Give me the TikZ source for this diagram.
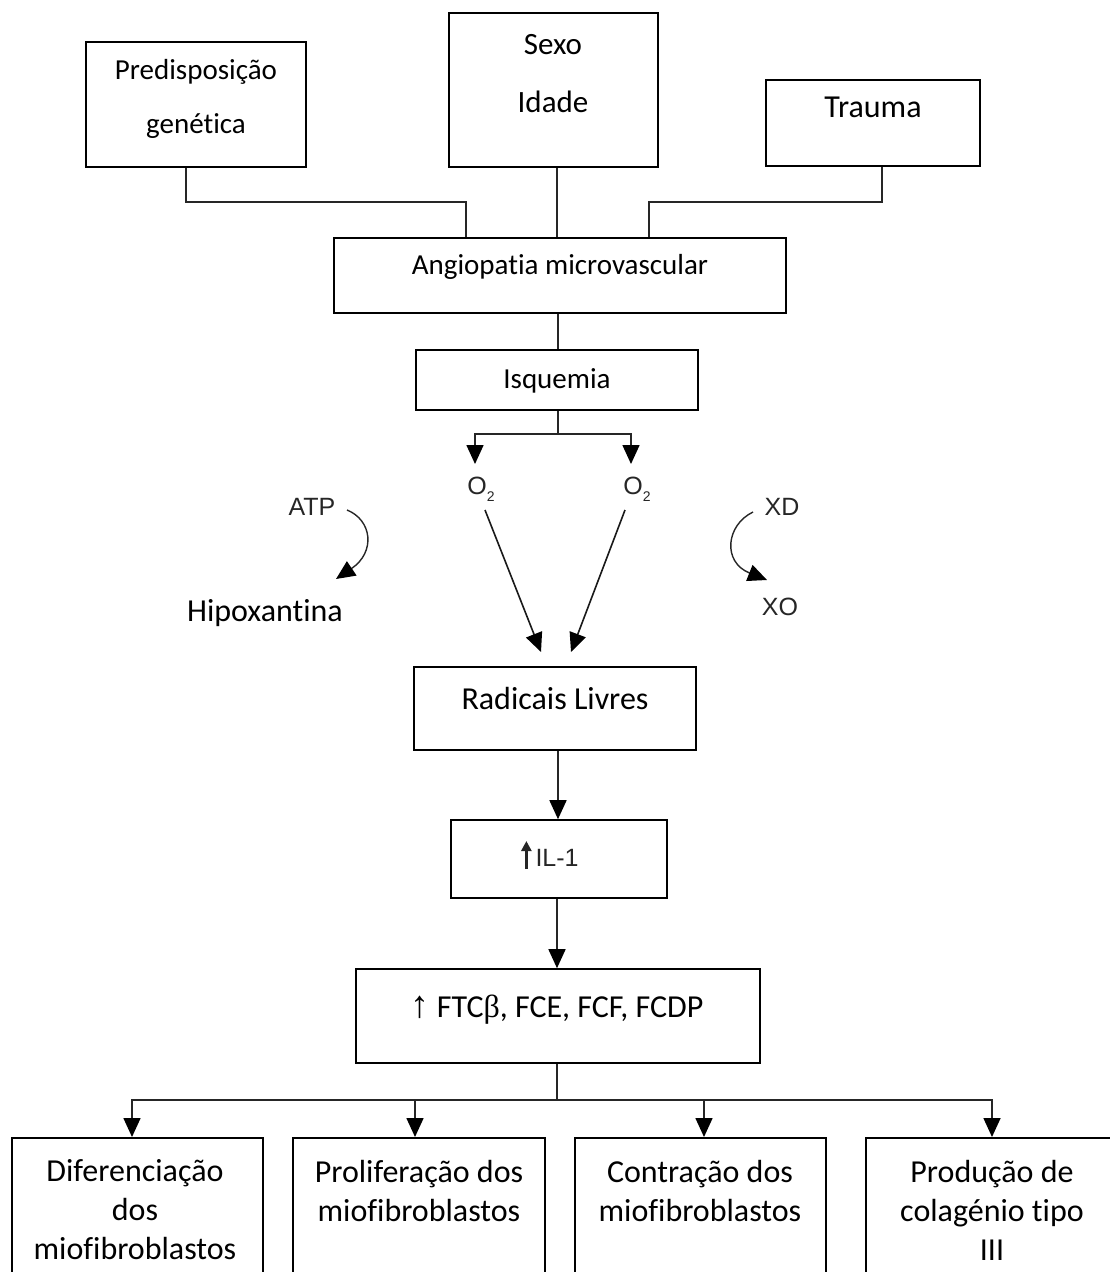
\documentclass[tikz,border=0pt]{standalone}
\usepackage{fontspec}
\setmainfont{Carlito}[Ligatures=NoCommon]
\newfontfamily\arialf{Liberation Sans}
\newfontfamily\serf{Liberation Serif}
\usetikzlibrary{arrows.meta}
\tikzset{
  box/.style={draw=black, line width=1.6pt, inner sep=0pt, fill=none},
  txt/.style={font=\fontsize{29}{38}\selectfont, align=center, inner sep=0pt},
  bigtxt/.style={font=\fontsize{32}{39}\selectfont, align=center, inner sep=0pt},
  conn/.style={line width=1.6pt, draw=black!85},
  arr/.style={conn, -{Triangle[length=19pt,width=17pt,color=black]}},
  gtxt/.style={font=\arialf\fontsize{25}{30}\selectfont, text=black!85, inner sep=0pt},
}
\newcommand{\oxy}{O\raisebox{-7pt}{\fontsize{14}{14}\selectfont 2}}
\begin{document}
\begin{tikzpicture}[x=1pt,y=1pt]
\useasboundingbox (0,0) rectangle (1110,-1272);
\clip (0,0) rectangle (1110,-1272);
% top boxes
\node[box, minimum width=220pt, minimum height=125pt] (pred) at (196,-104.5) {};
\node[txt, font=\fontsize{29}{54}\selectfont] (predt) at (196,-99) {Predisposição\\genética};
\node[box, minimum width=209pt, minimum height=154pt] (sexo) at (553.5,-90) {};
\node[txt, font=\fontsize{31}{58}\selectfont] (sexot) at (553,-74) {Sexo\\Idade};
\node[box, minimum width=214pt, minimum height=86pt] (trauma) at (873,-123) {};
\node[bigtxt] (traumat) at (873,-107) {Trauma};
% angiopatia
\node[box, minimum width=452pt, minimum height=75pt] (angio) at (560,-275.5) {};
\node[txt] (angiot) at (560,-267) {Angiopatia microvascular};
% isquemia
\node[box, minimum width=282pt, minimum height=60pt] (isq) at (557,-380) {};
\node[txt] (isqt) at (557,-381) {Isquemia};
% connectors top
\coordinate (pj) at (186,0);
\coordinate (aj1) at (466,0);
\coordinate (sj) at (557,0);
\coordinate (tj) at (882,0);
\coordinate (aj2) at (649,0);
\coordinate (ij) at (558,0);
\draw[conn] (pred.south -| pj) -- ++(0,-34) -| (angio.north -| aj1);
\draw[conn] (sexo.south -| sj) -- (angio.north -| sj);
\draw[conn] (trauma.south -| tj) -- ++(0,-35) -| (angio.north -| aj2);
\draw[conn] (angio.south -| ij) -- (isq.north -| ij);
% O2 branch
\node[gtxt] (o2a) at (481,-489) {\oxy};
\node[gtxt] (o2b) at (637,-489) {\oxy};
\coordinate (oa) at (475,-464);
\coordinate (ob) at (631,-464);
\draw[conn] (isq.south -| ij) -- ++(0,-23) coordinate (br);
\draw[arr] (br) -| (oa);
\draw[arr] (br) -| (ob);
% radicais
\node[box, minimum width=282pt, minimum height=83pt] (rad) at (555,-708.5) {};
\node[bigtxt] (radt) at (555,-698) {Radicais Livres};
\coordinate (d1s) at (485,-510);
\coordinate (d1e) at (541,-652);
\coordinate (d2s) at (625,-510);
\coordinate (d2e) at (571,-652);
\draw[arr, draw=black!90] (d1s) -- (d1e);
\draw[arr, draw=black!90] (d2s) -- (d2e);
% ATP / Hipoxantina
\node[gtxt] (atp) at (312,-507) {ATP};
\node[bigtxt] (hipo) at (265,-613) {Hipoxantina};
\coordinate (atps) at (347,-510);
\coordinate (atpe) at (336,-579);
\draw[arr, line width=1.4pt] (atps) .. controls (372,-520) and (376,-552) .. (atpe);
% XD / XO
\node[gtxt] (xd) at (782,-507) {XD};
\node[gtxt] (xo) at (780,-607) {XO};
\coordinate (xds) at (753,-512);
\coordinate (xde) at (767,-580);
\draw[arr, line width=1.4pt] (xds) .. controls (726,-525) and (722,-562) .. (xde);
% IL-1
\node[box, minimum width=216pt, minimum height=78pt] (il) at (559,-859) {};
\node[gtxt] (ilt) at (550,-855) {\tikz[baseline=0pt]\draw[line width=2.6pt,-{Triangle[length=10pt,width=10pt]}] (0pt,-3pt) -- (0pt,25pt);\,IL-1};
\coordinate (rj) at (558,0);
\draw[arr] (rad.south -| rj) -- (il.north -| rj);
% FTC
\node[box, minimum width=404pt, minimum height=94pt] (ftc) at (558,-1016) {};
\node[bigtxt] (ftct) at (557,-1010) {{\serf\fontsize{38}{39}\selectfont ↑} FTC{\serf β}, FCE, FCF, FCDP};
\coordinate (fj) at (557,0);
\draw[arr] (il.south -| fj) -- (ftc.north -| fj);
% bottom boxes
\node[box, minimum width=251pt, minimum height=170pt, anchor=north] (b1) at (137.5,-1137) {};
\node[box, minimum width=252pt, minimum height=170pt, anchor=north] (b2) at (419,-1137) {};
\node[box, minimum width=251pt, minimum height=170pt, anchor=north] (b3) at (700.5,-1137) {};
\node[box, minimum width=251pt, minimum height=170pt, anchor=north] (b4) at (991.5,-1137) {};
\node[bigtxt] (b1t) at (135,-1210) {Diferenciação\\dos\\miofibroblastos};
\node[bigtxt] (b2t) at (419,-1191) {Proliferação dos\\miofibroblastos};
\node[bigtxt] (b3t) at (700,-1191) {Contração dos\\miofibroblastos};
\node[bigtxt] (b4t) at (992,-1210) {Produção de\\colagénio tipo\\III};
\coordinate (a1) at (132,0);
\coordinate (a2) at (415,0);
\coordinate (a3) at (704,0);
\coordinate (a4) at (992,0);
\draw[conn] (ftc.south -| fj) -- ++(0,-36) coordinate (bh);
\draw[arr] (bh) -| (b1.north -| a1);
\draw[arr] (bh) -| (b2.north -| a2);
\draw[arr] (bh) -| (b3.north -| a3);
\draw[arr] (bh) -| (b4.north -| a4);
\end{tikzpicture}
\end{document}
